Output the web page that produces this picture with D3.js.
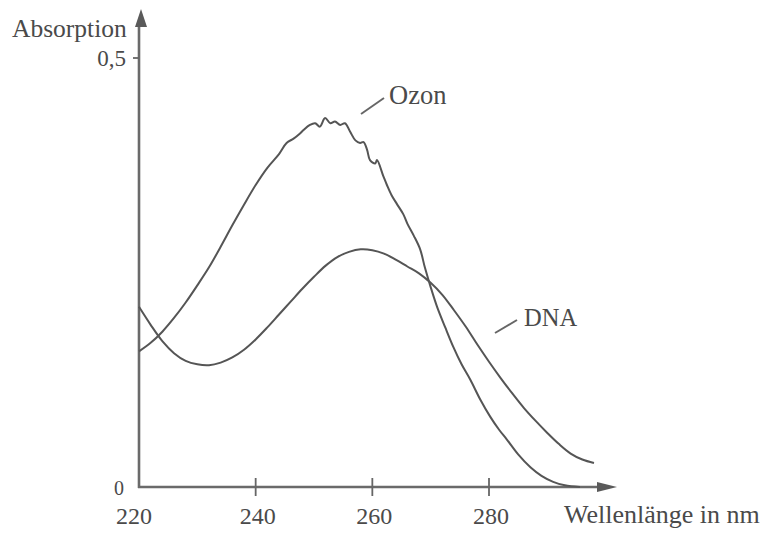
<!DOCTYPE html>
<html><head><meta charset="utf-8">
<script src="https://cdn.jsdelivr.net/npm/d3@7"></script>
<style>body{margin:0;background:#fff}svg{display:block}text{font-family:"Liberation Serif","Times New Roman",serif;fill:#4a4a4a}</style>
</head><body><svg id="c" width="763" height="533"></svg>
<script>
const xTicks = [220, 240, 260, 280];
const yTickLabels = ["0", "0,5"];
const yTicks = [0, 0.5];
const ozonNm  = [220,222,224,226,228,230,232,234,236,238,240,242,244,245.3,246.5,247.6,248.2,249.3,250.2,251.0,251.9,252.8,253.6,254.5,255.3,256.2,257.1,257.9,258.5,259.1,259.6,260.5,260.8,261.9,262.5,263.3,264.2,265.3,266.0,267.1,268.2,269.0,270.0,271.1,272.5,273.9,275.3,276.8,278.5,280.2,281.7,283.1,285.0,287.1,289.0,291.0,293.0,295.6];
const ozonAbs = [0.158,0.168,0.181,0.197,0.215,0.235,0.256,0.280,0.305,0.329,0.352,0.372,0.388,0.401,0.406,0.412,0.416,0.422,0.424,0.420,0.430,0.424,0.426,0.422,0.424,0.414,0.404,0.401,0.402,0.393,0.381,0.377,0.381,0.362,0.352,0.340,0.330,0.318,0.307,0.293,0.277,0.256,0.233,0.210,0.186,0.163,0.143,0.125,0.102,0.082,0.067,0.055,0.038,0.023,0.013,0.006,0.002,0.0];
const dnaNm  = [220,222,224,226,228,230,232,234,236,238,240,242,244,246,248,250,252,254,256,258,260,262,264,266,268,270,272,274,276,278,280,282,284,286,288,290,292,294,296,298];
const dnaAbs = [0.210,0.189,0.170,0.156,0.147,0.143,0.142,0.145,0.151,0.160,0.172,0.186,0.201,0.216,0.231,0.245,0.258,0.268,0.274,0.277,0.276,0.272,0.265,0.257,0.249,0.238,0.224,0.206,0.187,0.166,0.146,0.127,0.109,0.092,0.077,0.063,0.050,0.039,0.032,0.028];

const svg = d3.select("#c");
const x = d3.scaleLinear().domain([220, 280]).range([139, 489]);
const y = d3.scaleLinear().domain([0, 0.5]).range([487, 58]);
const ink = "#555";

// axes
const g = svg.append("g");
g.append("line").attr("x1", 138).attr("x2", 600).attr("y1", y(0)).attr("y2", y(0)).attr("stroke", "#6a6a6a").attr("stroke-width", 2.6);
g.append("line").attr("x1", 139).attr("x2", 139).attr("y1", y(0)+1).attr("y2", 22).attr("stroke", "#6a6a6a").attr("stroke-width", 2.6);
g.append("path").attr("d", `M617,${y(0)} L597,${y(0)-5} L597,${y(0)+5} Z`).attr("fill", "#5a5a5a");
g.append("path").attr("d", `M141,9 L135,27 L147,27 Z`).attr("fill", "#5a5a5a");

// x ticks
g.selectAll(".xt").data(xTicks.slice(1)).join("line")
  .attr("x1", d => x(d)).attr("x2", d => x(d))
  .attr("y1", y(0)-9).attr("y2", y(0)+9).attr("stroke", "#666").attr("stroke-width", 1.8);
g.selectAll(".xl").data(xTicks).join("text")
  .attr("x", d => d === 220 ? x(d) - 5 : x(d) + 2).attr("y", 524)
  .attr("text-anchor", "middle").attr("font-size", 24).text(d => d);
// y ticks
g.append("line").attr("x1", 133).attr("x2", 139).attr("y1", y(0.5)).attr("y2", y(0.5)).attr("stroke", "#666").attr("stroke-width", 1.8);
g.append("text").attr("x", 126).attr("y", y(0.5)+8).attr("text-anchor", "end").attr("font-size", 23).text(yTickLabels[1]);
g.append("text").attr("x", 124).attr("y", y(0)+8).attr("text-anchor", "end").attr("font-size", 20).text(yTickLabels[0]);

// axis titles
g.append("text").attr("x", 12).attr("y", 37).attr("font-size", 25.5).text("Absorption");
g.append("text").attr("x", 564).attr("y", 523).attr("font-size", 26).text("Wellenlänge in nm");

// curves
const line = d3.line().x(d => x(d[0])).y(d => y(d[1])).curve(d3.curveCatmullRom.alpha(0.5));
svg.append("path").datum(ozonNm.map((n, i) => [n, ozonAbs[i]]))
  .attr("d", line).attr("fill", "none").attr("stroke", ink).attr("stroke-width", 2);
svg.append("path").datum(dnaNm.map((n, i) => [n, dnaAbs[i]]))
  .attr("d", line).attr("fill", "none").attr("stroke", ink).attr("stroke-width", 2);

// labels
svg.append("line").attr("x1", 361).attr("y1", 114).attr("x2", 384).attr("y2", 98).attr("stroke", "#666").attr("stroke-width", 2);
svg.append("text").attr("x", 389).attr("y", 104).attr("font-size", 26.5).text("Ozon");
svg.append("line").attr("x1", 495).attr("y1", 333).attr("x2", 517).attr("y2", 320).attr("stroke", "#666").attr("stroke-width", 2);
svg.append("text").attr("x", 524).attr("y", 326).attr("font-size", 24.5).text("DNA");
</script></body></html>
